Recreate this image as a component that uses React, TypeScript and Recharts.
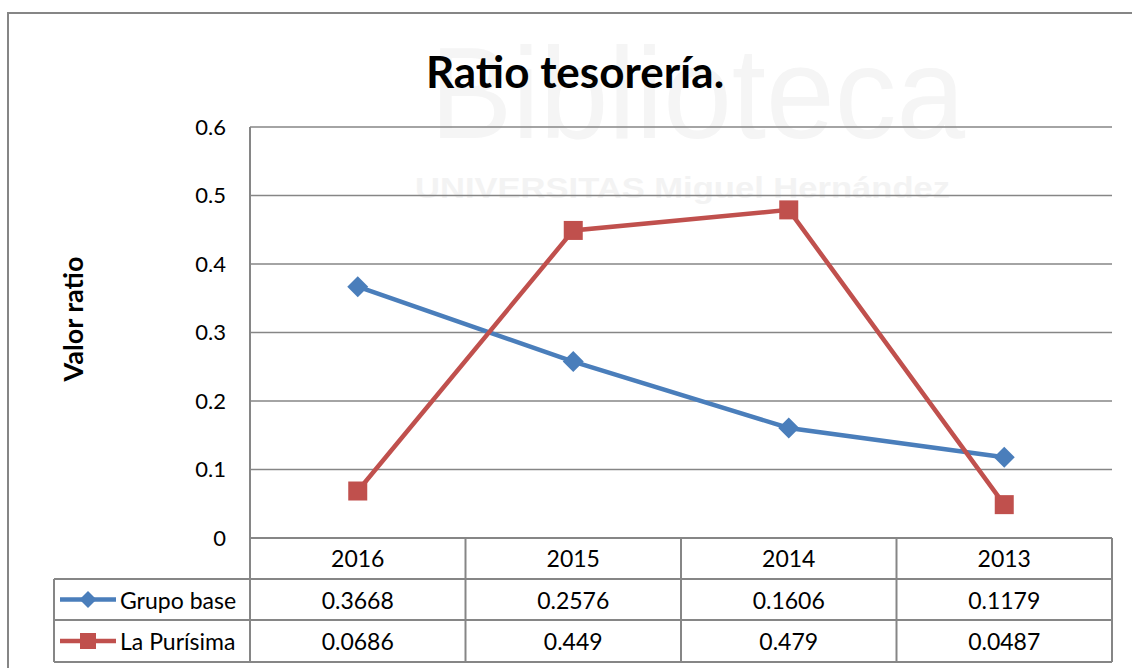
import { LineChart, Line, XAxis, YAxis, CartesianGrid } from 'recharts';

const years = ['2016', '2015', '2014', '2013'];
const grupoBase = [0.3668, 0.2576, 0.1606, 0.1179];
const laPurisima = [0.0686, 0.449, 0.479, 0.0487];
const yTicks = [0, 0.1, 0.2, 0.3, 0.4, 0.5, 0.6];

const BLUE = '#4a7ebb';
const RED = '#c0504d';
const GRID = '#868686';
const FONT = 'Lato, "Open Sans", sans-serif';

const W = 1132;
const H = 668;
const PLOT_LEFT = 250;
const PLOT_RIGHT = 1112;
const PLOT_TOP = 127;
const PLOT_BOTTOM = 538;
const TABLE_LEFT = 54;
const ROW_H = [41, 41, 42];

const series = [
  { key: 'grupo', name: 'Grupo base', values: grupoBase, color: BLUE, shape: 'diamond' },
  { key: 'purisima', name: 'La Purísima', values: laPurisima, color: RED, shape: 'square' },
];

const data = years.map((year, i) => ({
  year,
  grupo: grupoBase[i],
  purisima: laPurisima[i],
}));

const Marker = ({ cx, cy, shape, color, size }: any) => {
  if (shape === 'diamond') {
    return (
      <path
        d={`M${cx},${cy - size}L${cx + size},${cy}L${cx},${cy + size}L${cx - size},${cy}Z`}
        fill={color}
      />
    );
  }
  return <rect x={cx - size} y={cy - size} width={size * 2} height={size * 2} fill={color} />;
};

const YLabel = () => (
  <text
    transform="translate(83,319) rotate(-90)"
    textAnchor="middle"
    fontFamily={FONT}
    fontWeight={700}
    fontSize={27}
    fill="#000"
  >
    Valor ratio
  </text>
);

export default function App() {
  const plotWidth = PLOT_RIGHT - PLOT_LEFT;
  const colW = plotWidth / years.length;
  const rowTops = ROW_H.map((_, i) => PLOT_BOTTOM + ROW_H.slice(0, i).reduce((a, b) => a + b, 0));
  const tableBottom = PLOT_BOTTOM + ROW_H.reduce((a, b) => a + b, 0);

  return (
    <div
      style={{
        position: 'absolute',
        left: 0,
        top: 0,
        width: W,
        height: H,
        overflow: 'hidden',
        background: '#fff',
        fontFamily: FONT,
      }}
    >
      {/* background: frame + faint watermark */}
      <svg width={W} height={H} style={{ position: 'absolute', left: 0, top: 0 }}>
        <rect x={8} y={13} width={1140} height={680} fill="none" stroke={GRID} strokeWidth={2} />
        <text
          x={430}
          y={138}
          fontFamily="'Liberation Sans', sans-serif"
          fontSize={130}
          fill="#f5f5f5"
          textLength={535}
          lengthAdjust="spacingAndGlyphs"
        >
          Biblioteca
        </text>
        <text
          x={415}
          y={198}
          fontFamily="'Liberation Sans', sans-serif"
          fontWeight={700}
          fontSize={30}
          fill="#f3f3f3"
          textLength={535}
          lengthAdjust="spacingAndGlyphs"
        >
          UNIVERSITAS Miguel Hernández
        </text>
      </svg>

      <div style={{ position: 'absolute', left: 0, top: 0 }}>
        <LineChart
          width={W}
          height={H}
          data={data}
          margin={{ top: PLOT_TOP, right: W - PLOT_RIGHT, bottom: H - PLOT_BOTTOM - 42, left: 0 }}
        >
          <CartesianGrid vertical={false} stroke={GRID} strokeWidth={1.5} />
          <XAxis
            dataKey="year"
            height={42}
            padding={{ left: colW / 2, right: colW / 2 }}
            axisLine={{ stroke: GRID, strokeWidth: 2 }}
            tickLine={false}
            tickSize={0}
            tickMargin={13}
            tick={{ fill: '#000', fontSize: 23, fontFamily: FONT }}
          />
          <YAxis
            width={PLOT_LEFT}
            domain={[0, 0.6]}
            ticks={yTicks}
            axisLine={{ stroke: GRID, strokeWidth: 2 }}
            tickLine={false}
            tickSize={0}
            tickMargin={24}
            tick={{ fill: '#000', fontSize: 22, fontFamily: FONT }}
            label={<YLabel />}
          />
          {series.map((s) => (
            <Line
              key={s.key}
              type="linear"
              dataKey={s.key}
              name={s.name}
              stroke={s.color}
              strokeWidth={4.5}
              isAnimationActive={false}
              dot={(p: any) => (
                <Marker
                  key={`${s.key}-${p.index}`}
                  cx={p.cx}
                  cy={p.cy}
                  shape={s.shape}
                  color={s.color}
                  size={s.shape === 'diamond' ? 10.5 : 9.5}
                />
              )}
              activeDot={false}
            />
          ))}
        </LineChart>
      </div>

      {/* title + data table */}
      <svg width={W} height={H} style={{ position: 'absolute', left: 0, top: 0, pointerEvents: 'none' }}>
        <text x={575} y={88} textAnchor="middle" fontFamily={FONT} fontWeight={700} fontSize={44} fill="#000">
          Ratio tesorería.
        </text>

        <g stroke={GRID} strokeWidth={2}>
          {/* horizontal rules */}
          <line x1={PLOT_LEFT} x2={PLOT_RIGHT} y1={rowTops[0]} y2={rowTops[0]} />
          {rowTops.slice(1).map((y) => (
            <line key={y} x1={TABLE_LEFT} x2={PLOT_RIGHT} y1={y} y2={y} />
          ))}
          <line x1={TABLE_LEFT} x2={PLOT_RIGHT} y1={tableBottom} y2={tableBottom} />
          {/* vertical rules */}
          <line x1={TABLE_LEFT} x2={TABLE_LEFT} y1={rowTops[1]} y2={tableBottom} />
          {years.map((_, i) => (
            <line
              key={i}
              x1={PLOT_LEFT + i * colW}
              x2={PLOT_LEFT + i * colW}
              y1={PLOT_BOTTOM}
              y2={tableBottom}
            />
          ))}
          <line x1={PLOT_RIGHT} x2={PLOT_RIGHT} y1={PLOT_BOTTOM} y2={tableBottom} />
        </g>

        {series.map((s, r) => {
          const cy = rowTops[r + 1] + ROW_H[r + 1] / 2;
          return (
            <g key={s.key}>
              <line x1={60} x2={116} y1={cy} y2={cy} stroke={s.color} strokeWidth={4.5} />
              <Marker cx={88} cy={cy} shape={s.shape} color={s.color} size={s.shape === 'diamond' ? 8.5 : 8} />
              <text x={120} y={cy} dominantBaseline="central" fontFamily={FONT} fontSize={23} fill="#000">
                {s.name}
              </text>
              {s.values.map((v, i) => (
                <text
                  key={i}
                  x={PLOT_LEFT + (i + 0.5) * colW}
                  y={cy}
                  textAnchor="middle"
                  dominantBaseline="central"
                  fontFamily={FONT}
                  fontSize={23}
                  fill="#000"
                >
                  {String(v)}
                </text>
              ))}
            </g>
          );
        })}
      </svg>
    </div>
  );
}
